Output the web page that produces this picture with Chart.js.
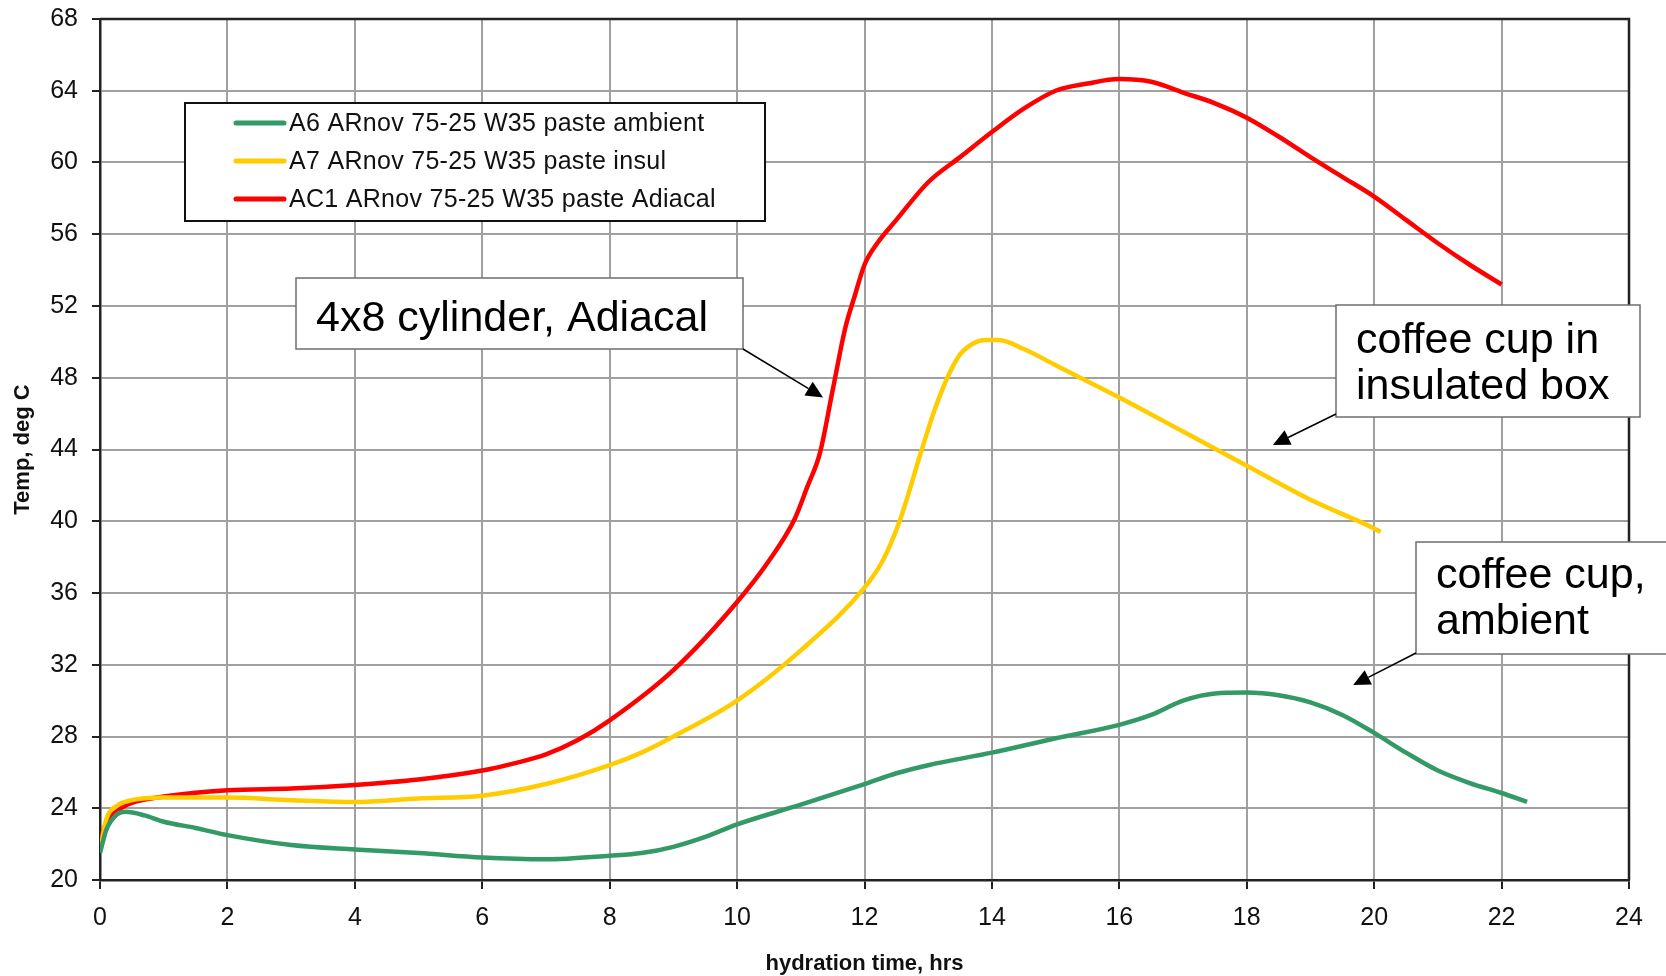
<!DOCTYPE html>
<html>
<head>
<meta charset="utf-8">
<script src="https://cdn.jsdelivr.net/npm/chart.js@4.4.1/dist/chart.umd.min.js"></script>
<style>
    html, body { margin: 0; padding: 0; background: #fff; }
    #tempChart { display: block; }
</style>
</head>
<body>
<canvas id="tempChart" width="1666" height="976"></canvas>
<script>
// Series (hours, deg C)
const ambientHours = [0, 0.1, 0.25, 0.4, 0.7, 1, 1.5, 2, 3, 4, 5, 6, 7, 8, 8.5, 9, 9.5, 10, 11, 12, 12.5, 13, 14, 15, 16, 16.5, 17, 17.5, 18, 18.5, 19, 19.5, 20, 20.5, 21, 21.5, 22, 22.4];
const ambientTemps = [21.5, 22.8, 23.6, 23.8, 23.6, 23.25, 22.9, 22.5, 21.95, 21.7, 21.5, 21.25, 21.15, 21.35, 21.5, 21.85, 22.4, 23.1, 24.2, 25.35, 25.95, 26.4, 27.1, 27.9, 28.65, 29.2, 30.0, 30.4, 30.45, 30.3, 29.9, 29.2, 28.2, 27.1, 26.1, 25.4, 24.85, 24.35];

const insulHours = [0, 0.1, 0.25, 0.5, 1, 2, 3, 4, 5, 6, 7, 8, 8.5, 9, 10, 11, 12, 12.3, 12.55, 12.9, 13.1, 13.3, 13.5, 13.7, 13.9, 14.1, 14.5, 15, 16, 17, 18, 19, 20, 20.1];
const insulTemps = [21.6, 23.4, 24.1, 24.45, 24.6, 24.6, 24.45, 24.35, 24.55, 24.7, 25.35, 26.4, 27.1, 28.0, 30.0, 32.8, 36.3, 37.9, 40.0, 44.0, 46.2, 48.0, 49.3, 49.9, 50.1, 50.1, 49.6, 48.7, 46.9, 45.0, 43.1, 41.2, 39.6, 39.4];

const adiacalHours = [0, 0.1, 0.25, 0.5, 1, 2, 3, 4, 5, 6, 6.5, 7, 7.5, 8, 9, 10, 10.5, 10.9, 11.1, 11.3, 11.5, 11.7, 11.85, 12, 12.2, 12.5, 13, 13.5, 14, 14.5, 15, 15.5, 16, 16.5, 17, 17.5, 18, 18.5, 19, 19.5, 20, 20.5, 21, 21.5, 22];
const adiacalTemps = [22.2, 23.2, 23.8, 24.3, 24.65, 25.0, 25.1, 25.3, 25.6, 26.1, 26.5, 27.0, 27.8, 28.9, 31.7, 35.5, 37.8, 40.1, 41.9, 43.8, 47.3, 50.8, 52.6, 54.3, 55.5, 56.8, 58.9, 60.3, 61.7, 63.0, 64.0, 64.4, 64.65, 64.5, 63.9, 63.3, 62.5, 61.45, 60.3, 59.2, 58.1, 56.8, 55.5, 54.3, 53.2];

const seriesLabels = [
    'A6 ARnov 75-25 W35 paste ambient',
    'A7 ARnov 75-25 W35 paste insul',
    'AC1 ARnov 75-25 W35 paste Adiacal'
];
const seriesColors = ['#339966', '#ffcc00', '#ff0000'];

// Callout texts and where their arrows point (hours, deg C)
const calloutTexts = [['4x8 cylinder, Adiacal'], ['coffee cup in', 'insulated box'], ['coffee cup,', 'ambient']];
const calloutTargets = [[11.35, 46.9], [18.41, 44.25], [19.67, 30.87]];

const xTicks = { min: 0, max: 24, step: 2 };
const yTicks = { min: 20, max: 68, step: 4 };

function toPoints(xs, ys) {
    return xs.map((x, i) => ({ x: x, y: ys[i] }));
}

Chart.defaults.font.family = '"Liberation Sans", Arial, sans-serif';
Chart.defaults.color = '#111';

// Frame on top and right side of the plot area
const frame = {
    id: 'frame',
    beforeDatasetsDraw(chart) {
        const { ctx, chartArea: a } = chart;
        ctx.save();
        ctx.strokeStyle = '#222';
        ctx.lineWidth = 2.5;
        ctx.beginPath();
        ctx.moveTo(a.left, a.top);
        ctx.lineTo(a.right, a.top);
        ctx.lineTo(a.right, a.bottom);
        ctx.stroke();
        ctx.restore();
    }
};

// Boxed legend inside the plot
const boxLegend = {
    id: 'boxLegend',
    afterDatasetsDraw(chart) {
        const ctx = chart.ctx;
        const box = { x: 185, y: 103, w: 580, h: 118 };
        ctx.save();
        ctx.fillStyle = '#fff';
        ctx.fillRect(box.x, box.y, box.w, box.h);
        ctx.strokeStyle = '#111';
        ctx.lineWidth = 2;
        ctx.strokeRect(box.x, box.y, box.w, box.h);
        ctx.font = '25px "Liberation Sans", Arial, sans-serif';
        if ('letterSpacing' in ctx) ctx.letterSpacing = '0.3px';
        ctx.textBaseline = 'middle';
        chart.data.datasets.forEach((ds, i) => {
            const y = 123 + i * 38;
            ctx.strokeStyle = ds.borderColor;
            ctx.lineWidth = 5;
            ctx.lineCap = 'round';
            ctx.beginPath();
            ctx.moveTo(236, y);
            ctx.lineTo(284, y);
            ctx.stroke();
            ctx.fillStyle = '#111';
            ctx.fillText(ds.label, 289, y + 1);
        });
        ctx.restore();
    }
};

// Text callouts with arrows
const callouts = {
    id: 'callouts',
    afterDraw(chart) {
        const { ctx, scales } = chart;
        const boxes = [
            { x: 296, y: 278, w: 447, h: 71, tx: 316, ty: 331, tail: [743, 349] },
            { x: 1336, y: 305, w: 304, h: 112, tx: 1356, ty: 353, tail: [1336, 414] },
            { x: 1416, y: 542, w: 260, h: 112, tx: 1436, ty: 588, tail: [1416, 653] }
        ];
        ctx.save();
        boxes.forEach((b, i) => {
            ctx.fillStyle = '#fff';
            ctx.fillRect(b.x, b.y, b.w, b.h);
            ctx.strokeStyle = '#6e6e6e';
            ctx.lineWidth = 1.5;
            ctx.strokeRect(b.x, b.y, b.w, b.h);
            ctx.fillStyle = '#000';
            ctx.font = '43px "Liberation Sans", Arial, sans-serif';
            ctx.textBaseline = 'alphabetic';
            calloutTexts[i].forEach((line, j) => {
                ctx.fillText(line, b.tx, b.ty + j * 46);
            });

            const tx = scales.x.getPixelForValue(calloutTargets[i][0]);
            const ty = scales.y.getPixelForValue(calloutTargets[i][1]);
            const [sx, sy] = b.tail;
            const ang = Math.atan2(ty - sy, tx - sx);
            const len = 17, half = 8;
            const bx = tx - len * Math.cos(ang), by = ty - len * Math.sin(ang);
            ctx.strokeStyle = '#000';
            ctx.lineWidth = 1.5;
            ctx.beginPath();
            ctx.moveTo(sx, sy);
            ctx.lineTo(bx, by);
            ctx.stroke();
            ctx.fillStyle = '#000';
            ctx.beginPath();
            ctx.moveTo(tx, ty);
            ctx.lineTo(bx + half * Math.sin(ang), by - half * Math.cos(ang));
            ctx.lineTo(bx - half * Math.sin(ang), by + half * Math.cos(ang));
            ctx.closePath();
            ctx.fill();
        });
        ctx.restore();
    }
};

const ctx = document.getElementById('tempChart');
new Chart(ctx, {
    type: 'line',
    data: {
        datasets: [
            { label: seriesLabels[0], data: toPoints(ambientHours, ambientTemps), borderColor: seriesColors[0] },
            { label: seriesLabels[1], data: toPoints(insulHours, insulTemps), borderColor: seriesColors[1] },
            { label: seriesLabels[2], data: toPoints(adiacalHours, adiacalTemps), borderColor: seriesColors[2] }
        ]
    },
    options: {
        responsive: false,
        animation: false,
        layout: { padding: { top: 19, right: 37, left: 0, bottom: 0 } },
        elements: {
            line: { borderWidth: 4.5, cubicInterpolationMode: 'monotone', fill: false },
            point: { radius: 0 }
        },
        scales: {
            x: {
                type: 'linear',
                min: xTicks.min,
                max: xTicks.max,
                afterFit(scale) { scale.height = 96; },
                ticks: { stepSize: xTicks.step, padding: 14, font: { size: 25 }, maxRotation: 0 },
                grid: { color: '#a0a0a0', lineWidth: 2, tickLength: 9, tickColor: '#222', tickWidth: 2 },
                border: { color: '#222', width: 2.5 },
                title: {
                    display: true,
                    text: 'hydration time, hrs',
                    font: { size: 22, weight: 'bold', lineHeight: 1 },
                    padding: { top: 0, bottom: 1 }
                }
            },
            y: {
                min: yTicks.min,
                max: yTicks.max,
                afterFit(scale) {
                    scale.width = 100;
                    // let the layout padding alone decide where the plot starts
                    scale.paddingTop = 0;
                    scale.paddingBottom = 0;
                },
                ticks: { stepSize: yTicks.step, padding: 14, font: { size: 25 } },
                grid: { color: '#a0a0a0', lineWidth: 2, tickLength: 8, tickColor: '#222', tickWidth: 2 },
                border: { color: '#222', width: 2.5 },
                title: {
                    display: true,
                    text: 'Temp, deg C',
                    font: { size: 22, weight: 'bold', lineHeight: 1 },
                    padding: { top: 12, bottom: 0 }
                }
            }
        },
        plugins: {
            legend: { display: false },
            tooltip: { enabled: false }
        }
    },
    plugins: [frame, boxLegend, callouts]
});
</script>
</body>
</html>
